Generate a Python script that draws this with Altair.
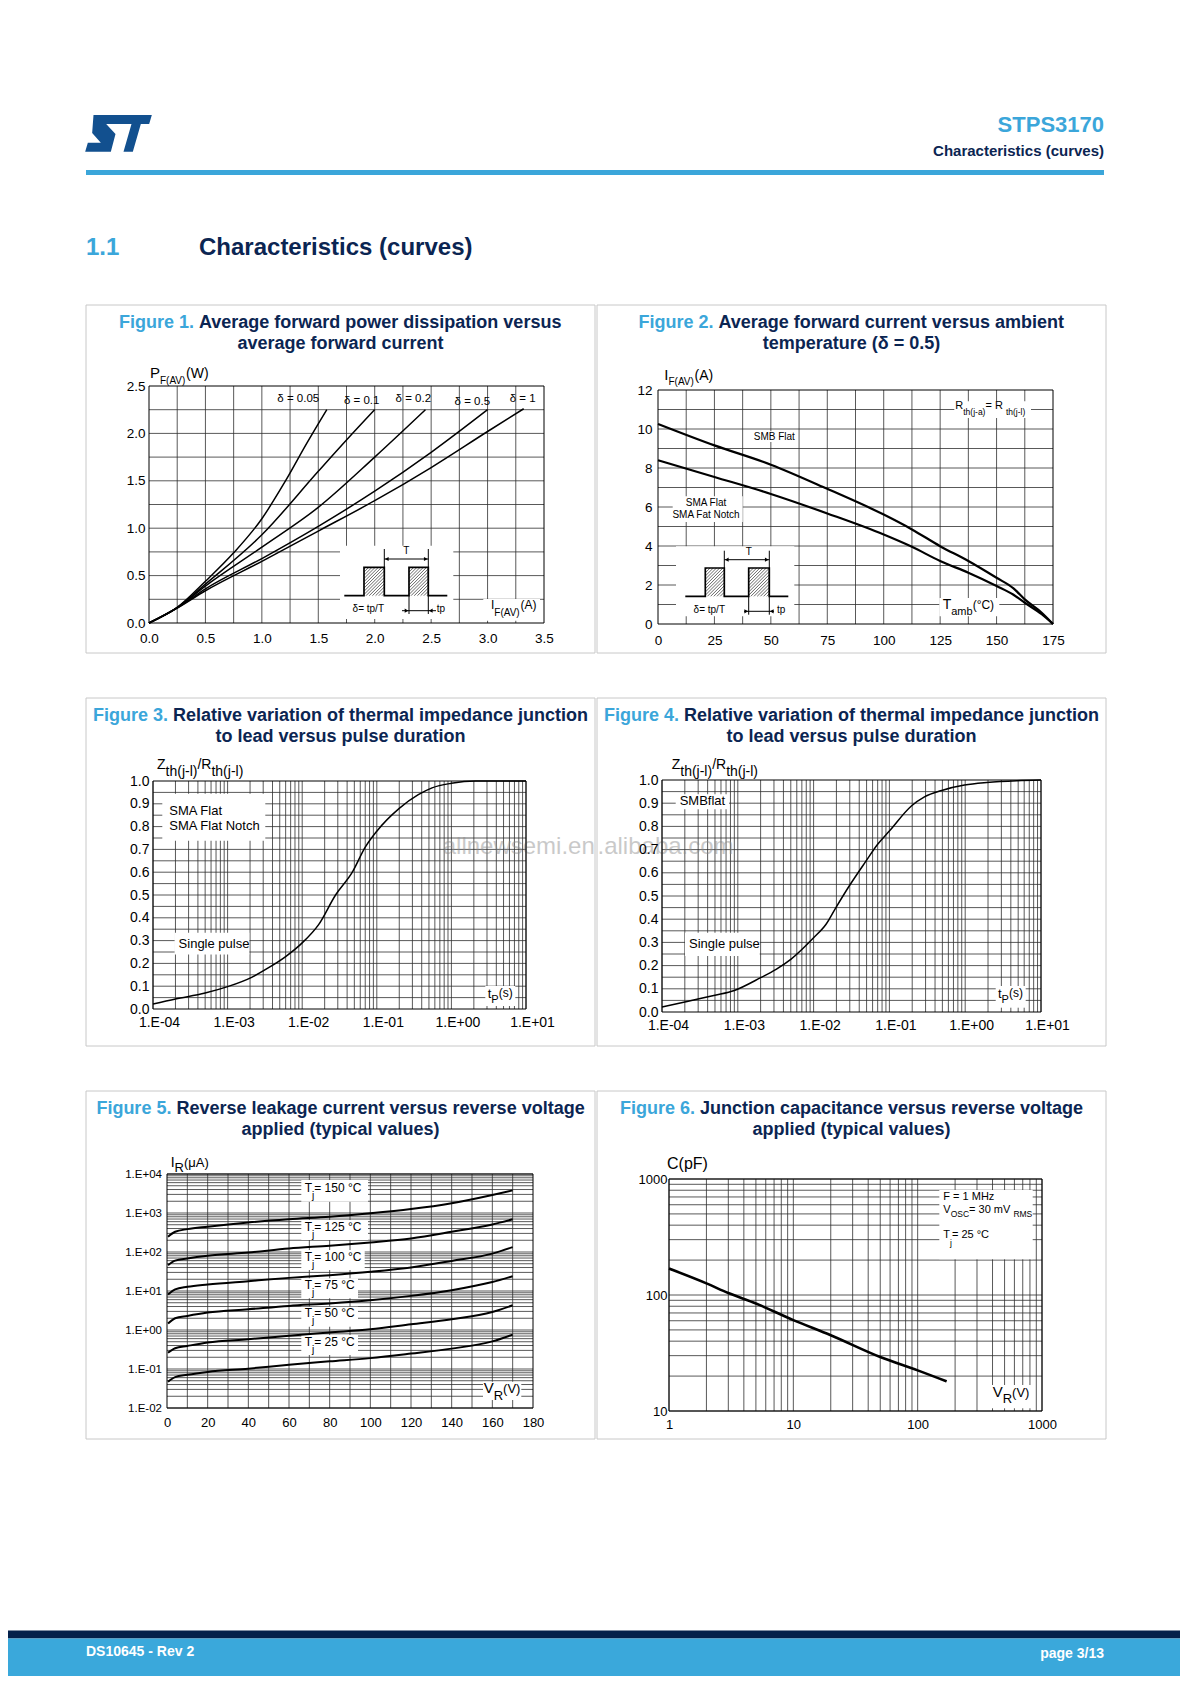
import math
import altair as alt
import pandas as pd

FONT = "Liberation Sans"
BLUE = "#3BA6DA"
NAVY = "#0B2552"
LOGO = "#12508F"
GRIDC = "#2E2E2E"
FRAMEC = "#C8C8C8"

# ======================= DATA =======================
# Figure 1 : P_F(AV) (W) versus I_F(AV) (A)
F1_LABELS = ["δ = 0.05", "δ = 0.1", "δ = 0.2", "δ = 0.5", "δ = 1"]
F1_I_005 = [0, 0.25, 0.5, 0.75, 1.0, 1.2, 1.4, 1.575]
F1_P_005 = [0, 0.165, 0.44, 0.74, 1.1, 1.48, 1.9, 2.25]
F1_I_01 = [0, 0.25, 0.5, 1.0, 1.5, 1.75, 2.0]
F1_P_01 = [0, 0.163, 0.41, 0.93, 1.6, 1.93, 2.25]
F1_I_02 = [0, 0.25, 0.5, 1.0, 1.5, 2.0, 2.45]
F1_P_02 = [0, 0.161, 0.39, 0.8, 1.22, 1.75, 2.25]
F1_I_05 = [0, 0.25, 0.5, 1.0, 1.5, 2.0, 2.5, 3.0]
F1_P_05 = [0, 0.16, 0.36, 0.68, 1.02, 1.39, 1.8, 2.25]
F1_I_1 = [0, 0.25, 0.5, 1.0, 1.5, 2.0, 2.5, 3.0, 3.32]
F1_P_1 = [0, 0.158, 0.34, 0.65, 0.97, 1.29, 1.64, 2.02, 2.26]

# Figure 2 : I_F(AV) (A) versus T_amb (°C)
F2_T = [0, 25, 50, 75, 100, 112.5, 125, 137.5, 150, 157.5, 162.5, 170, 175]
F2_SMB = [10.26, 9.16, 8.17, 6.93, 5.61, 4.85, 3.99, 3.23, 2.37, 1.83, 1.26, 0.58, 0]
F2_SMA = [8.4, 7.54, 6.67, 5.67, 4.59, 3.96, 3.23, 2.63, 1.95, 1.5, 1.09, 0.5, 0]

# Figure 3 : Zth/Rth versus tp (SMA)
F3_TP = [1e-4, 2e-4, 5e-4, 1e-3, 2.1e-3, 3.5e-3, 6e-3, 1e-2, 1.66e-2, 2.8e-2, 4.7e-2,
         7e-2, 0.1, 0.2, 0.36, 0.55, 1.0, 2.1, 10]
F3_Z = [0.022, 0.044, 0.07, 0.098, 0.139, 0.18, 0.23, 0.29, 0.37, 0.50, 0.60,
        0.71, 0.78, 0.88, 0.94, 0.97, 0.99, 1.0, 1.0]

# Figure 4 : Zth/Rth versus tp (SMB)
F4_TP = [1e-4, 2e-4, 5e-4, 9e-4, 2e-3, 3.2e-3, 5e-3, 1e-2, 1.46e-2, 1.97e-2, 2.95e-2,
         4.9e-2, 7e-2, 0.1, 0.195, 0.29, 0.49, 0.98, 1.93, 4.8, 10]
F4_Z = [0.022, 0.043, 0.072, 0.093, 0.148, 0.184, 0.227, 0.32, 0.378, 0.45, 0.543,
        0.65, 0.723, 0.78, 0.888, 0.927, 0.955, 0.978, 0.989, 0.997, 1.0]

# Figure 5 : I_R (µA) versus V_R (V)
F5_VR = [0.5, 4, 10, 20, 40, 60, 80, 100, 120, 140, 160, 170]
F5_TJ = ["150", "125", "100", "75", "50", "25"]
F5_IR_150 = [245, 330, 386, 447, 574, 693, 800, 980, 1260, 1780, 2890, 3800]
F5_IR_125 = [46, 60, 68, 80, 97, 123, 145, 176, 223, 330, 510, 690]
F5_IR_100 = [8.1, 11, 12.8, 14.7, 17.9, 21.7, 25.5, 31, 40, 59, 91, 133]
F5_IR_75 = [1.46, 2.0, 2.3, 2.8, 3.4, 4.15, 4.8, 5.8, 7.5, 10.5, 17, 24]
F5_IR_50 = [0.26, 0.34, 0.39, 0.48, 0.58, 0.71, 0.86, 1.04, 1.4, 1.89, 2.9, 4.3]
F5_IR_25 = [0.047, 0.062, 0.071, 0.084, 0.102, 0.129, 0.157, 0.19, 0.248, 0.333, 0.51, 0.76]

# Figure 6 : C (pF) versus V_R (V)
F6_VR = [1, 2, 3, 5, 10, 20, 50, 100, 171]
F6_C = [169, 126, 104, 84.5, 60.7, 45, 29.2, 22.4, 18.0]

# tick labels
F1_XTICKS = [0.0, 0.5, 1.0, 1.5, 2.0, 2.5, 3.0, 3.5]
F1_YTICKS = [0.0, 0.5, 1.0, 1.5, 2.0, 2.5]
F2_XTICKS = [0, 25, 50, 75, 100, 125, 150, 175]
F2_YTICKS = [0, 2, 4, 6, 8, 10, 12]
F34_XTICKS = [1e-4, 1e-3, 1e-2, 1e-1, 1, 10]
F34_XLABELS = ["1.E-04", "1.E-03", "1.E-02", "1.E-01", "1.E+00", "1.E+01"]
F34_YTICKS = [0.0, 0.1, 0.2, 0.3, 0.4, 0.5, 0.6, 0.7, 0.8, 0.9, 1.0]
F5_XTICKS = [0, 20, 40, 60, 80, 100, 120, 140, 160, 180]
F5_YTICKS = [1e-2, 1e-1, 1, 10, 100, 1000, 1e4]
F5_YLABELS = ["1.E-02", "1.E-01", "1.E+00", "1.E+01", "1.E+02", "1.E+03", "1.E+04"]
F6_XTICKS = [1, 10, 100, 1000]
F6_YTICKS = [10, 100, 1000]

ONE = pd.DataFrame({"k": [0]})

# ======================= TEXT METRICS =======================
REG = {' ': 278, '(': 333, ')': 333, '.': 278, '/': 278, '-': 333, '=': 584, '°': 400,
       'δ': 556, 'μ': 576, '+': 584,
       'A': 667, 'B': 667, 'C': 722, 'D': 722, 'E': 667, 'F': 611, 'G': 778, 'H': 722,
       'I': 278, 'J': 500, 'K': 667, 'L': 556, 'M': 833, 'N': 722, 'O': 778, 'P': 667,
       'Q': 778, 'R': 722, 'S': 667, 'T': 611, 'U': 722, 'V': 667, 'W': 944, 'X': 667,
       'Y': 667, 'Z': 611,
       'a': 556, 'b': 556, 'c': 500, 'd': 556, 'e': 556, 'f': 278, 'g': 556, 'h': 556,
       'i': 222, 'j': 222, 'k': 500, 'l': 222, 'm': 833, 'n': 556, 'o': 556, 'p': 556,
       'q': 556, 'r': 333, 's': 500, 't': 278, 'u': 556, 'v': 500, 'w': 722, 'x': 500,
       'y': 500, 'z': 500}
BOLD = {' ': 278, '(': 333, ')': 333, '.': 278, '/': 278, '-': 333, '=': 584, 'δ': 611,
        'A': 722, 'B': 722, 'C': 722, 'D': 722, 'E': 667, 'F': 611, 'G': 778, 'H': 722,
        'I': 278, 'J': 556, 'K': 722, 'L': 611, 'M': 833, 'N': 722, 'O': 778, 'P': 667,
        'R': 722, 'S': 667, 'T': 611, 'U': 722, 'V': 667, 'W': 944,
        'a': 556, 'b': 611, 'c': 556, 'd': 611, 'e': 556, 'f': 333, 'g': 611, 'h': 611,
        'i': 278, 'j': 278, 'k': 556, 'l': 278, 'm': 889, 'n': 611, 'o': 611, 'p': 611,
        'q': 611, 'r': 389, 's': 556, 't': 333, 'u': 611, 'v': 556, 'w': 778, 'x': 556,
        'y': 556, 'z': 500}


def tw(s, size, bold=False):
    t = BOLD if bold else REG
    return sum(t.get(ch, 556) for ch in s) * size / 1000.0


def item(px, py, t, s, c="black", b=False, a="left", o=1.0):
    return dict(px=px, py=py, t=t, s=s, c=c, b=b, a=a, o=o)


def rich(px, py, parts, color="black"):
    out = []
    x = px
    for text, size, dy in parts:
        out.append(item(x, py + dy, text, size, color))
        x += tw(text, size)
    return out


def axis(values, size, pad, offset, fmt=None, expr=None, off=None):
    kw = dict(values=values, labelFontSize=size, labelPadding=pad, labelFont=FONT,
              labelColor="black", ticks=False, tickSize=0, domain=False, grid=False,
              title=None, labelFlush=False, labelOverlap=False, offset=offset, zindex=2)
    if fmt:
        kw["format"] = fmt
    if expr:
        kw["labelExpr"] = expr
    if off:
        kw["labelOffset"] = off
    return alt.Axis(**kw)


def label_expr(vals, labels):
    expr = "'" + labels[-1] + "'"
    for v, l in reversed(list(zip(vals[:-1], labels[:-1]))):
        expr = "datum.value < %g ? '%s' : (%s)" % (v * 3, l, expr)
    return expr


# ======================= PANEL MACHINERY =======================
# Each panel's view is its whole framed box; the plot area sits inside it at (dx, dy)
# through explicit scale ranges, and the axes are moved in onto the plot area.
class Panel:
    def __init__(self, w, h, xd, yd, dx, dy, fw, xt, yt, xlog=False, ylog=False, fh=348):
        self.w, self.h, self.xd, self.yd = w, h, xd, yd
        self.dx, self.dy, self.fw, self.fh = dx, dy, fw, fh
        self.xlog, self.ylog = xlog, ylog
        xr = [dx, dx + w]
        yr = [dy + h, dy]
        if xlog:
            self.xscale = alt.Scale(type="log", domain=list(xd), range=xr, nice=False)
        else:
            self.xscale = alt.Scale(type="linear", domain=list(xd), range=xr, nice=False,
                                    zero=False)
        if ylog:
            self.yscale = alt.Scale(type="log", domain=list(yd), range=yr, nice=False)
        else:
            self.yscale = alt.Scale(type="linear", domain=list(yd), range=yr, nice=False,
                                    zero=False)
        xv, xs, xp, xf, xe, xo = xt
        yv, ys, yp, yf, ye, yo = yt
        self.xaxis = axis(xv, xs, xp, -(fh - dy - h), xf, xe, xo)
        self.yaxis = axis(yv, ys, yp, -dx, yf, ye, yo)

    def px2x(self, px):
        t = px / self.w
        a, b = self.xd
        if self.xlog:
            return 10 ** (math.log10(a) + t * (math.log10(b) - math.log10(a)))
        return a + t * (b - a)

    def px2y(self, py):
        t = 1 - py / self.h
        a, b = self.yd
        if self.ylog:
            return 10 ** (math.log10(a) + t * (math.log10(b) - math.log10(a)))
        return a + t * (b - a)

    def X(self, f):
        return alt.X(f + ":Q", scale=self.xscale, axis=self.xaxis)

    def Y(self, f):
        return alt.Y(f + ":Q", scale=self.yscale, axis=self.yaxis)


def title_items(P, fig, line1, line2):
    cx = P.fw / 2 - P.dx
    y1 = 23 - P.dy
    y2 = 44 - P.dy
    first = fig + " "
    w = tw(first, 18, True) + tw(line1, 18, True)
    x0 = cx - w / 2
    return [item(x0, y1, fig, 18, BLUE, True),
            item(x0 + tw(first, 18, True), y1, line1, 18, NAVY, True),
            item(cx, y2, line2, 18, NAVY, True, "center")]


def hatch(x0, x1, y0, y1, sp=3.2):
    segs = []
    c = x0 + y0 + sp / 2
    while c < x1 + y1:
        xa = max(x0, c - y1)
        xb = min(x1, c - y0)
        if xb > xa:
            segs.append((xa, c - xa, xb, c - xb, 0.6))
        c += sp
    return segs


def long_df(xs_list, ys_list, names):
    rows = []
    for xs, ys, n in zip(xs_list, ys_list, names):
        for a, b in zip(xs, ys):
            rows.append(dict(x=a, y=b, s=n))
    return pd.DataFrame(rows)


def panel_chart(P, xgrid, ygrid, curves, cw, boxes=(), segs=(), polys=(),
                arrows=(), texts=(), gridw=0.8):
    layers = []
    layers.append(alt.Chart(ONE).mark_rect(fillOpacity=0, stroke=FRAMEC, strokeWidth=1).encode(
        x=alt.value(0), x2=alt.value(P.fw), y=alt.value(0), y2=alt.value(P.fh)))
    layers.append(alt.Chart(pd.DataFrame({"v": xgrid})).mark_rule(
        color=GRIDC, strokeWidth=gridw).encode(
        x=P.X("v"), y=alt.value(P.dy), y2=alt.value(P.dy + P.h)))
    layers.append(alt.Chart(pd.DataFrame({"v": ygrid})).mark_rule(
        color=GRIDC, strokeWidth=gridw).encode(
        y=P.Y("v"), x=alt.value(P.dx), x2=alt.value(P.dx + P.w)))
    if boxes:
        bdf = pd.DataFrame([dict(x=P.px2x(a), x2=P.px2x(b), y=P.px2y(c), y2=P.px2y(d))
                            for a, b, c, d in boxes])
        layers.append(alt.Chart(bdf).mark_rect(fill="white").encode(
            x=P.X("x"), x2=alt.X2("x2"), y=P.Y("y"), y2=alt.Y2("y2")))
    layers.append(alt.Chart(curves).mark_line(
        color="black", strokeWidth=cw, interpolate="monotone").encode(
        x=P.X("x"), y=P.Y("y"), detail="s:N"))
    if segs:
        sdf = pd.DataFrame([dict(x=P.px2x(a), y=P.px2y(b), x2=P.px2x(c), y2=P.px2y(d), w=w)
                            for a, b, c, d, w in segs])
        layers.append(alt.Chart(sdf).mark_rule(color="black").encode(
            x=P.X("x"), y=P.Y("y"), x2=alt.X2("x2"), y2=alt.Y2("y2"),
            strokeWidth=alt.StrokeWidth("w:Q", scale=None)))
    if polys:
        rows = []
        for k, pts in enumerate(polys):
            for i, (a, b) in enumerate(pts):
                rows.append(dict(x=P.px2x(a), y=P.px2y(b), id=k, i=i))
        layers.append(alt.Chart(pd.DataFrame(rows)).mark_line(
            color="black", strokeWidth=1.7).encode(
            x=P.X("x"), y=P.Y("y"), detail="id:N", order="i:Q"))
    if arrows:
        adf = pd.DataFrame([dict(x=P.px2x(a), y=P.px2y(b), sh=s) for a, b, s in arrows])
        layers.append(alt.Chart(adf).mark_point(
            filled=True, color="black", size=18, opacity=1).encode(
            x=P.X("x"), y=P.Y("y"), shape=alt.Shape("sh:N", scale=None)))
    if texts:
        tdf = pd.DataFrame(list(texts))
        tdf["x"] = tdf["px"].map(P.px2x)
        tdf["y"] = tdf["py"].map(P.px2y)
        for (b, a), g in tdf.groupby(["b", "a"]):
            g2 = g[["x", "y", "t", "s", "c", "o"]]
            layers.append(alt.Chart(g2).mark_text(
                align=a, baseline="alphabetic", font=FONT,
                fontWeight="bold" if b else "normal").encode(
                x=P.X("x"), y=P.Y("y"), text="t:N",
                size=alt.Size("s:Q", scale=None),
                color=alt.Color("c:N", scale=None),
                opacity=alt.Opacity("o:Q", scale=None)))
    layers.append(alt.Chart(ONE).mark_rect(fillOpacity=0, stroke="black", strokeWidth=1).encode(
        x=alt.value(P.dx), x2=alt.value(P.dx + P.w), y=alt.value(P.dy),
        y2=alt.value(P.dy + P.h)))
    return alt.layer(*layers).properties(width=P.fw, height=P.fh)


def pulse_inset(base, top, xs, v1, v2, tline, tpline):
    """Pulse train sketch (pixel offsets inside the plot)."""
    x0, r1a, r1b, r2a, r2b, x1 = xs
    poly = [(x0, base), (r1a, base), (r1a, top), (r1b, top), (r1b, base), (r2a, base),
            (r2a, top), (r2b, top), (r2b, base), (x1, base)]
    segs = hatch(r1a, r1b, top, base) + hatch(r2a, r2b, top, base)
    segs += [(r1b, v1, r1b, top, 1.0), (r2b, v1, r2b, v2, 1.0), (r2a, base, r2a, v2, 1.0),
             (r1b, tline, r2b, tline, 1.0), (tpline[0], tpline[2], tpline[1], tpline[2], 1.0)]
    arrows = [(r1b + 2.5, tline, "triangle-left"), (r2b - 2.5, tline, "triangle-right"),
              (r2a - 2.5, tpline[2], "triangle-right"), (r2b + 2.5, tpline[2], "triangle-left")]
    return [poly], segs, arrows


# ======================= FIGURE 1 =======================
P1 = Panel(395, 237, (0, 3.5), (0, 2.5), dx=63, dy=81, fw=509,
           xt=(F1_XTICKS, 13.5, 8, ".1f", None, None),
           yt=(F1_YTICKS, 13.5, 4, ".1f", None, None))
c1 = long_df([F1_I_005, F1_I_01, F1_I_02, F1_I_05, F1_I_1],
             [F1_P_005, F1_P_01, F1_P_02, F1_P_05, F1_P_1], F1_LABELS)
poly1, segs1, arr1 = pulse_inset(209.7, 181.3, (195.3, 215, 235.3, 260, 279.3, 298.3),
                                 163, 228, 173, (253, 287, 224.7))
t1 = title_items(P1, "Figure 1.", "Average forward power dissipation versus",
                 "average forward current")
t1 += rich(1, -8, [("P", 15, 0), ("F(AV)", 10, 5.5), ("(W)", 14, 0)])
t1 += rich(342, 223, [("I", 12, 0), ("F(AV)", 10, 6.7), ("(A)", 12, 0)])
for lab, (px, py) in zip(F1_LABELS, [(149.3, 16), (212.7, 17.5), (264.3, 16), (323.3, 18.5),
                                     (373.7, 16)]):
    t1.append(item(px, py, lab, 11.5, a="center"))
t1 += [item(257.3, 168, "T", 10, a="center"), item(219.3, 226, "δ= tp/T", 10, a="center"),
       item(287.7, 226, "tp", 10)]
fig1 = panel_chart(
    P1, [round(0.25 * i, 2) for i in range(1, 14)], [round(0.25 * i, 2) for i in range(1, 10)],
    c1, 1.5, boxes=[(191, 304.3, 159.7, 233), (334.3, 391, 213, 234.7)],
    segs=segs1, polys=poly1, arrows=arr1, texts=t1)

# ======================= FIGURE 2 =======================
P2 = Panel(395, 234, (0, 175), (0, 12), dx=61, dy=85, fw=509,
           xt=(F2_XTICKS, 13.5, 9, "d", None, None),
           yt=(F2_YTICKS, 13.5, 6, "d", None, None))
c2 = long_df([F2_T, F2_T], [F2_SMB, F2_SMA], ["SMB Flat", "SMA Flat"])
poly2, segs2, arr2 = pulse_inset(206.3, 178, (27.3, 47.3, 66.3, 90.7, 111.3, 130.3),
                                 160.7, 224.7, 169.7, (86, 116, 221.3))
t2 = title_items(P2, "Figure 2.", "Average forward current versus ambient",
                 "temperature (δ = 0.5)")
t2 += rich(6.3, -10.3, [("I", 15, 0), ("F(AV)", 10, 5), ("(A)", 14, 0)])
t2 += rich(284.7, 218.7, [("T", 14, 0), ("amb", 11, 6), ("(°C)", 12, 0)])
t2 += rich(297.3, 18.7, [("R", 11, 0), ("th(j-a)", 8.5, 6), (" = R", 11, 0), ("th(j-l)", 8.5, 6)])
t2 += [item(116.3, 49.7, "SMB Flat", 10, a="center"),
       item(48, 116.3, "SMA Flat", 10, a="center"),
       item(48, 128, "SMA Fat Notch", 10, a="center"),
       item(90.7, 165, "T", 10, a="center"), item(51.3, 222.5, "δ= tp/T", 10, a="center"),
       item(119, 223, "tp", 10)]
fig2 = panel_chart(
    P2, [12.5 * i for i in range(1, 14)], list(range(1, 12)),
    c2, 2.2, boxes=[(94.7, 138, 41.3, 52), (14.7, 84.7, 106.3, 132), (296.3, 373, 11.3, 28),
                    (281.3, 341.3, 208, 226.3), (18, 136.3, 156.3, 226.3)],
    segs=segs2, polys=poly2, arrows=arr2, texts=t2)

# ======================= FIGURES 3 & 4 =======================
LOGX_GRID = [m * 10.0 ** e for e in range(-4, 1) for m in range(1, 10)] + [10.0]
F34_XEXPR = label_expr(F34_XTICKS, F34_XLABELS)
Y05 = [round(0.05 * i, 2) for i in range(1, 20)]

P3 = Panel(373, 228, (1e-4, 10), (0, 1), dx=67, dy=83, fw=509, xlog=True,
           xt=(F34_XTICKS, 14, 6.5, None, F34_XEXPR, 6),
           yt=(F34_YTICKS, 14, 4, ".1f", None, None))
c3 = long_df([F3_TP], [F3_Z], ["SMA"])
t3 = title_items(P3, "Figure 3.", "Relative variation of thermal impedance junction",
                 "to lead versus pulse duration")
t3 += rich(4, -11.7, [("Z", 14, 0), ("th(j-l)", 14, 7), ("/R", 14, 0), ("th(j-l)", 14, 7)])
t3 += rich(334.7, 216.7, [("t", 13, 0), ("P", 11, 5), ("(s)", 12, -0.5)])
t3 += [item(16.3, 33.7, "SMA Flat", 13), item(16.3, 48.7, "SMA Flat Notch", 13),
       item(25.6, 166.7, "Single pulse", 13),
       item(441.8, 72.7, "allnewsemi.en", 24, "#8A8A8A", a="right", o=0.45)]
fig3 = panel_chart(
    P3, LOGX_GRID, Y05, c3, 1.5,
    boxes=[(9.3, 112.3, 12.7, 59.7), (21.6, 96.3, 151.7, 173.4), (332.3, 362.3, 205, 225)],
    texts=t3)

P4 = Panel(379, 232, (1e-4, 10), (0, 1), dx=65, dy=82, fw=509, xlog=True,
           xt=(F34_XTICKS, 14, 6.5, None, F34_XEXPR, 6),
           yt=(F34_YTICKS, 14, 4, ".1f", None, None))
c4 = long_df([F4_TP], [F4_Z], ["SMB"])
t4 = title_items(P4, "Figure 4.", "Relative variation of thermal impedance junction",
                 "to lead versus pulse duration")
t4 += rich(9.7, -11.3, [("Z", 14, 0), ("th(j-l)", 14, 7), ("/R", 14, 0), ("th(j-l)", 14, 7)])
t4 += rich(336, 217.7, [("t", 13, 0), ("P", 11, 5), ("(s)", 12, -0.5)])
t4 += [item(17.7, 25, "SMBflat", 13), item(27, 167.7, "Single pulse", 13),
       item(-64.5, 73.7, ".alibaba.com", 24, "#8A8A8A", a="left", o=0.45)]
fig4 = panel_chart(
    P4, LOGX_GRID, Y05, c4, 1.5,
    boxes=[(13.7, 67, 14.3, 29.3), (23, 97.7, 152.7, 176), (333.7, 363.7, 206, 227.7)],
    texts=t4)

# ======================= FIGURE 5 =======================
P5 = Panel(366, 234, (0, 180), (1e-2, 1e4), dx=81, dy=83, fw=509, ylog=True,
           xt=(F5_XTICKS, 13, 8, "d", None, None),
           yt=(F5_YTICKS, 11.5, 5.5, None, label_expr(F5_YTICKS, F5_YLABELS), None))
c5 = long_df([F5_VR] * 6, [F5_IR_150, F5_IR_125, F5_IR_100, F5_IR_75, F5_IR_50, F5_IR_25],
             F5_TJ)
t5 = title_items(P5, "Figure 5.", "Reverse leakage current versus reverse voltage",
                 "applied (typical values)")
t5 += rich(3.7, -7.3, [("I", 14, 0), ("R", 13, 5), ("(μA)", 13, 0)])
t5 += rich(316.7, 219.3, [("V", 15, 0), ("R", 13, 6.7), ("(V)", 13, 0)])
f5_lab_y = [17.7, 57, 87, 115, 143, 171.7]
f5_box = [(6, 27.7, 201), (46, 66, 201), (76, 96, 197.7), (104.3, 124.3, 191),
          (132.7, 152.7, 191), (161, 181, 191)]
for tj, by in zip(F5_TJ, f5_lab_y):
    t5 += rich(137.7, by, [("T", 12, 0), ("j", 10, 7), (" = " + tj + " °C", 12, 0)])
fig5 = panel_chart(
    P5, list(range(10, 180, 10)),
    [m * 10.0 ** e for e in range(-2, 4) for m in range(1, 10)] + [1e4],
    c5, 2.0, boxes=[(134.3, r, a, b) for a, b, r in f5_box] + [(316, 354.3, 207.7, 226)],
    texts=t5)

# ======================= FIGURE 6 =======================
P6 = Panel(373, 232, (1, 1000), (10, 1000), dx=72, dy=88, fw=509, xlog=True, ylog=True,
           xt=(F6_XTICKS, 13, 7, "d", None, None),
           yt=(F6_YTICKS, 13, 2, "d", None, None))
c6 = long_df([F6_VR], [F6_C], ["C"])
t6 = title_items(P6, "Figure 6.", "Junction capacitance versus reverse voltage",
                 "applied (typical values)")
t6 += [item(-2, -10, "C(pF)", 16), item(274.3, 21, "F = 1 MHz", 11)]
t6 += rich(274.3, 34.3, [("V", 11, 0), ("OSC", 8.5, 3.5), (" = 30 mV", 11, 0), ("RMS", 8.5, 3.5)])
t6 += rich(274.3, 59.3, [("T", 11, 0), ("j", 8.5, 7.4), (" = 25 °C", 11, 0)])
t6 += rich(323.7, 217.7, [("V", 15, 0), ("R", 13, 6.6), ("(V)", 13, 0)])
fig6 = panel_chart(
    P6, [m * 10.0 ** e for e in range(0, 3) for m in range(1, 10)] + [1000.0],
    [m * 10.0 ** e for e in range(1, 3) for m in range(1, 10)] + [1000.0],
    c6, 2.6, boxes=[(270.3, 363.7, 11, 80.3), (320.3, 363.7, 206, 229.3)], texts=t6)


# ======================= HEADER & FOOTER =======================
def vtext(x, y, t, size, color, bold=False, align="left"):
    return alt.Chart(ONE).mark_text(
        text=t, align=align, baseline="alphabetic", font=FONT, fontSize=size,
        fontWeight="bold" if bold else "normal", color=color).encode(
        x=alt.value(x), y=alt.value(y))


LOGO_PATH = ("M -0.75 -0.55 L 0.17 -0.55 L 0.09 -0.28 L -0.37 -0.28 L -0.09 0.02 "
             "L -0.23 0.55 L -1 0.55 L -0.92 0.28 L -0.53 0.28 L -0.79 -0.01 Z "
             "M 0.15 -0.55 L 1 -0.55 L 0.92 -0.28 L 0.67 -0.28 L 0.43 0.55 L 0.15 0.55 "
             "L 0.39 -0.28 L 0.07 -0.28 Z")

PAGE_W = 1019

header = alt.layer(
    alt.Chart(ONE).mark_rect(opacity=0).encode(
        x=alt.value(0), x2=alt.value(PAGE_W), y=alt.value(0), y2=alt.value(253)),
    alt.Chart(ONE).mark_point(shape=LOGO_PATH, filled=True, color=LOGO, size=4444,
                              opacity=1, strokeWidth=0).encode(
        x=alt.value(32.5), y=alt.value(125.3)),
    vtext(1018, 124, "STPS3170", 22, BLUE, True, "right"),
    vtext(1018, 147.5, "Characteristics (curves)", 15, NAVY, True, "right"),
    alt.Chart(ONE).mark_rect(color=BLUE).encode(
        x=alt.value(0), x2=alt.value(1018), y=alt.value(162), y2=alt.value(167)),
    vtext(0, 247, "1.1", 24, BLUE, True),
    vtext(113, 247, "Characteristics (curves)", 24, NAVY, True),
).properties(width=PAGE_W, height=253)

footer = alt.layer(
    alt.Chart(ONE).mark_rect(color="#04204A").encode(
        x=alt.value(-78), x2=alt.value(1094), y=alt.value(147.5), y2=alt.value(155.5)),
    alt.Chart(ONE).mark_rect(color="#3AA8DB").encode(
        x=alt.value(-78), x2=alt.value(1094), y=alt.value(155.5), y2=alt.value(193)),
    vtext(0, 172.7, "DS10645 - Rev 2", 14, "white", True),
    vtext(1018, 175, "page 3/13", 14, "white", True, "right"),
).properties(width=PAGE_W, height=193)

row1 = alt.hconcat(fig1, fig2, spacing=0)
row2 = alt.hconcat(fig3, fig4, spacing=0)
row3 = alt.hconcat(fig5, fig6, spacing=0)

chart = alt.vconcat(header, row1, row2, row3, footer, spacing=43).properties(
    padding=0).configure_view(strokeWidth=0)

chart.save("out.html", embed_options={"renderer": "svg", "actions": False})
